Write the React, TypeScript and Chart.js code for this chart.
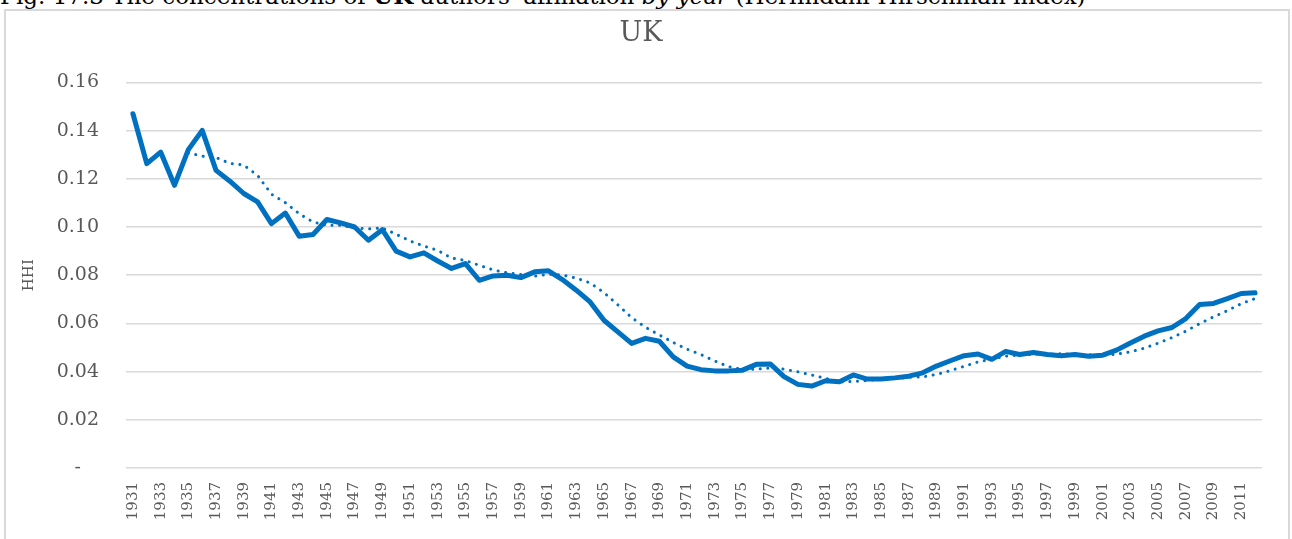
import React, { useEffect, useRef } from "react";
import { Chart, registerables } from "chart.js";

Chart.register(...registerables);

const years: string[] = [
  "1931","1932","1933","1934","1935","1936","1937","1938","1939","1940",
  "1941","1942","1943","1944","1945","1946","1947","1948","1949","1950",
  "1951","1952","1953","1954","1955","1956","1957","1958","1959","1960",
  "1961","1962","1963","1964","1965","1966","1967","1968","1969","1970",
  "1971","1972","1973","1974","1975","1976","1977","1978","1979","1980",
  "1981","1982","1983","1984","1985","1986","1987","1988","1989","1990",
  "1991","1992","1993","1994","1995","1996","1997","1998","1999","2000",
  "2001","2002","2003","2004","2005","2006","2007","2008","2009","2010",
  "2011","2012",
];

const hhiUK: number[] = [
  0.147, 0.1263, 0.1311, 0.1173, 0.1321, 0.1401, 0.1235, 0.119, 0.1139, 0.1104,
  0.1014, 0.1058, 0.0962, 0.0969, 0.1031, 0.1017, 0.1, 0.0945, 0.0989, 0.09,
  0.0876, 0.0893, 0.0859, 0.0828, 0.0848, 0.0779, 0.0797, 0.08, 0.079, 0.0814,
  0.0818, 0.0782, 0.0738, 0.0689, 0.0613, 0.0565, 0.0517, 0.0538, 0.0526, 0.0461,
  0.0423, 0.0408, 0.0403, 0.0403, 0.0406, 0.043, 0.0432, 0.0379, 0.0347, 0.034,
  0.0362, 0.0358, 0.0386, 0.0369, 0.0369, 0.0374, 0.0381, 0.0395, 0.0423, 0.0445,
  0.0466, 0.0473, 0.0451, 0.0484, 0.0471, 0.0479, 0.0471, 0.0466, 0.0471, 0.0464,
  0.0468, 0.0489, 0.0519, 0.0547, 0.0569, 0.0583, 0.062, 0.0678, 0.0683, 0.0703,
  0.0724, 0.0727,
];

// 5-year moving-average trend line
const trendUK: (number | null)[] = [
  null, null, null, null, 0.1308, 0.1294, 0.1288, 0.1264, 0.1257, 0.1214,
  0.1136, 0.1101, 0.1055, 0.1021, 0.1007, 0.1007, 0.0996, 0.0992, 0.0996, 0.097,
  0.0942, 0.0921, 0.0903, 0.0871, 0.0861, 0.0841, 0.0822, 0.081, 0.0803, 0.0796,
  0.0804, 0.0801, 0.0788, 0.0768, 0.0728, 0.0677, 0.0624, 0.0584, 0.0552, 0.0521,
  0.0493, 0.0471, 0.0444, 0.042, 0.0409, 0.041, 0.0415, 0.041, 0.0399, 0.0386,
  0.0372, 0.0357, 0.0359, 0.0363, 0.0369, 0.0371, 0.0376, 0.0378, 0.0388, 0.0404,
  0.0422, 0.044, 0.0452, 0.0464, 0.0469, 0.0472, 0.0471, 0.0474, 0.0472, 0.047,
  0.0468, 0.0472, 0.0482, 0.0497, 0.0518, 0.0541, 0.0568, 0.0599, 0.0627, 0.0653,
  0.0682, 0.0703,
];

const chartTitle = "UK";
const yAxisTitle = "HHI";
const caption = "Fig. 17.3 The concentrations of ";
const captionBold = "UK";
const captionMid = " authors' affiliation ";
const captionItalic = "by year";
const captionEnd = " (Herfindahl-Hirschman index)";

const BLUE = "#0070C0";
const TEXT = "#595959";
const GRID = "#d9d9d9";
const FONT = "'DejaVu Serif', serif";

export default function App() {
  const ref = useRef<HTMLCanvasElement | null>(null);

  useEffect(() => {
    document.body.style.margin = "0";
    if (!ref.current) return;
    const chart = new Chart(ref.current, {
      type: "line",
      data: {
        labels: years,
        datasets: [
          {
            data: hhiUK,
            borderColor: BLUE,
            backgroundColor: BLUE,
            borderWidth: 5,
            pointRadius: 0,
            borderJoinStyle: "round",
            borderCapStyle: "round",
            tension: 0,
          },
          {
            data: trendUK,
            borderColor: BLUE,
            backgroundColor: BLUE,
            borderWidth: 3,
            borderDash: [0.1, 7.5],
            borderCapStyle: "round",
            pointRadius: 0,
            tension: 0,
          },
        ],
      },
      options: {
        animation: false,
        responsive: false,
        maintainAspectRatio: false,
        layout: { padding: { left: 20, right: 30, top: 10, bottom: 0 } },
        plugins: {
          legend: { display: false },
          tooltip: { enabled: false },
          title: {
            display: true,
            text: chartTitle,
            color: TEXT,
            font: { family: FONT, size: 27, weight: "normal" },
            padding: { top: 8, bottom: 32 },
          },
        },
        scales: {
          x: {
            offset: true,
            grid: { display: false, drawTicks: false },
            border: { display: false },
            ticks: {
              autoSkip: false,
              minRotation: 90,
              maxRotation: 90,
              padding: 14,
              color: TEXT,
              font: { family: FONT, size: 15 },
              callback: function (_v: any, i: number) {
                return i % 2 === 0 ? years[i] : "";
              },
            },
            afterFit: (s: any) => {
              s.height = 71;
            },
          },
          y: {
            min: 0,
            max: 0.16,
            grid: { color: GRID, lineWidth: 1.5, drawTicks: false },
            border: { display: false },
            title: {
              display: true,
              text: yAxisTitle,
              color: TEXT,
              font: { family: FONT, size: 15 },
              padding: 0,
            },
            ticks: {
              stepSize: 0.02,
              padding: 27,
              color: TEXT,
              font: { family: FONT, size: 19 },
              callback: (v: any) => (Math.abs(v) < 1e-9 ? "-   " : Number(v).toFixed(2)),
            },
            afterFit: (s: any) => {
              s.width = 106;
            },
          },
        },
      },
    });
    return () => chart.destroy();
  }, []);

  return (
    <div style={{ position: "absolute", left: 0, top: 0, width: 1292, height: 539, overflow: "hidden", background: "#fff" }}>
      <div
        style={{
          position: "absolute",
          left: 0,
          top: -16,
          whiteSpace: "nowrap",
          fontFamily: FONT,
          fontSize: 23,
          lineHeight: "23px",
          color: "#000",
        }}
      >
        {caption}
        <b>{captionBold}</b>
        {captionMid}
        <i>{captionItalic}</i>
        {captionEnd}
      </div>
      <div
        style={{
          position: "absolute",
          left: 4,
          top: 9,
          width: 1286,
          height: 560,
          border: "2px solid " + GRID,
          boxSizing: "border-box",
        }}
      />
      <canvas ref={ref} width={1292} height={539} style={{ position: "absolute", left: 0, top: 0 }} />
    </div>
  );
}
